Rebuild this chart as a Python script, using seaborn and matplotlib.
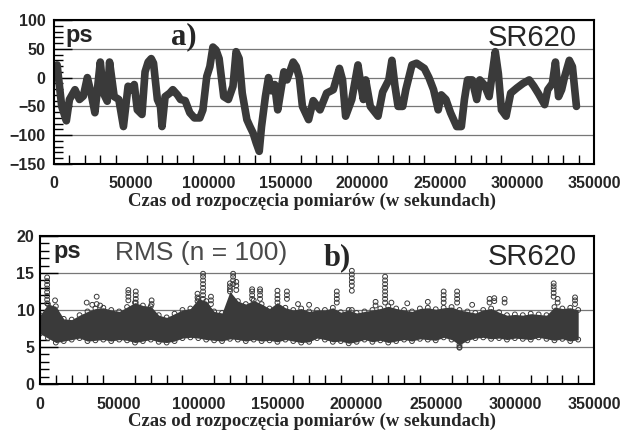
import numpy as np
import pandas as pd
import matplotlib
matplotlib.use('Agg')
import matplotlib.pyplot as plt
from matplotlib.ticker import MultipleLocator
import seaborn as sns

# --- data ---
# a) time offset in ps vs. time (s)
offset_t = [0, 2000, 5000, 8000, 10000, 13600, 16500, 19000, 21600, 24000, 26500,
            30000, 32000, 34500, 36000, 39000, 42000, 45000, 48000, 50000, 52000,
            54000, 57000, 59000, 61000, 63000, 64500, 67000, 69000, 70000, 72000,
            75000, 77000, 80000, 82000, 85000, 88000, 91000, 94500, 96500, 99000,
            101000, 103000, 105000, 107000, 110000, 113000, 116000, 118000, 120000,
            122000, 125000, 127000, 129000, 131000, 133000, 134500, 137000, 139000,
            141000, 143000, 145000, 147000, 149000, 151000, 155000, 157000, 159000,
            161000, 165000, 168000, 172400, 176700, 181000, 185000, 187000, 189000,
            193000, 197000, 199000, 200500, 202000, 205000, 210000, 213000, 217000,
            219000, 221000, 223000, 226000, 228000, 232000, 235000, 240000, 243000,
            246000, 249000, 251000, 254000, 257000, 261000, 264000, 266000, 268000,
            271000, 274000, 276000, 279000, 282000, 286000, 288000, 290000, 293000,
            296000, 300000, 304000, 308000, 311000, 314000, 318000, 320000, 323000,
            325000, 327000, 329000, 331000, 334000, 336000, 338600]
offset_ps = [18, 22, -50, -75, -38, -21, -38, -32, 0, -27, -61,
             27, -27, -41, 27, -33, -38, -85, -15, -21, -12,
             -56, -64, 10, 27, 33, 25, -38, -50, -85, -33,
             -27, -21, -30, -38, -40, -61, -70, -70, -56, 2,
             19, 53, 48, 33, -33, -38, -15, 45, 33,
             -27, -73, -85, -96, -113, -128, -85, -33, 0,
             -23, -12, -56, -23, 10, -4, 27, 19, 0,
             -50, -73, -40, -56, -27, -21, 16, -4, -67,
             -38, 22, -15, -38, -4, -50, -67, -25, -4,
             30, -15, -50, -50, -21, 22, 25, 16, 0,
             -21, -56, -30, -38, -61, -85, -85, -38, -4,
             -4, -38, -4, -13, -33, 45, 7, -56, -67,
             -27, -18, -10, -4, -15, -28, -47, -21, -10,
             27, -33, -21, 2, 30, 19, -50]

# b) RMS (n = 100) band: lower / upper edge of the dense cloud
rms_t = [0, 5000, 10000, 15000, 20000, 25000, 30000, 35000, 40000, 45000, 50000,
         55000, 60000, 65000, 70000, 75000, 80000, 85000, 90000, 95000, 100000,
         105000, 110000, 115000, 120000, 125000, 130000, 135000, 140000, 145000,
         150000, 155000, 160000, 165000, 170000, 175000, 180000, 185000, 190000,
         195000, 200000, 205000, 210000, 215000, 220000, 225000, 230000, 235000,
         240000, 245000, 250000, 255000, 260000, 265000, 270000, 275000, 280000,
         285000, 290000, 295000, 300000, 305000, 310000, 315000, 320000, 325000,
         330000, 335000, 340000]
rms_hi = [9.3, 10.8, 10.5, 8.8, 8.7, 9.3, 9.8, 10.2, 10.3, 10.0, 9.8,
          10.4, 11.0, 10.6, 10.5, 9.3, 9.0, 9.5, 10.0, 10.2, 11.5,
          11.2, 9.8, 9.6, 12.5, 11.2, 10.8, 11.3, 10.8, 10.2,
          11.0, 10.3, 10.0, 10.2, 9.8, 10.0, 10.0, 10.3, 9.7,
          10.0, 9.6, 9.8, 10.0, 10.2, 10.5, 10.2, 10.0, 9.8,
          10.2, 10.3, 10.1, 10.3, 10.4, 10.0, 9.8, 9.6, 10.0,
          10.2, 9.7, 9.3, 9.4, 9.3, 9.5, 9.4, 9.3, 10.4,
          10.2, 10.3, 10.0]
rms_lo = [6.8, 6.2, 5.6, 5.8, 6.0, 6.2, 5.8, 5.9, 6.0, 5.8, 6.0,
          5.9, 5.6, 5.8, 6.0, 5.7, 5.6, 5.8, 6.2, 6.3, 6.2,
          6.0, 5.9, 5.8, 6.1, 6.0, 5.8, 6.0, 5.8, 5.9,
          5.7, 6.0, 5.8, 5.6, 5.7, 6.2, 6.0, 5.7, 5.8,
          5.5, 5.7, 6.0, 5.7, 5.9, 5.6, 5.8, 6.0, 5.8,
          6.1, 6.0, 5.9, 6.3, 6.0, 5.3, 5.9, 6.2, 6.3,
          6.1, 6.2, 6.0, 6.2, 6.1, 6.0, 6.3, 6.1, 5.9,
          6.1, 5.8, 6.0]

# b) isolated RMS points standing out of the band
out_t = [4500] * 8 + [9500, 29500, 33000, 35800, 35800, 38000] \
    + [55800] * 4 + [60500] * 4 + [70500] * 2 + [99500] * 3 + [103000] * 8 \
    + [108000] * 3 + [120000] * 3 + [122000] * 4 + [124000] * 3 \
    + [134000] * 4 + [139000] * 4 + [150000] * 3 + [156000] * 3 + [163000, 170000] \
    + [187500] * 4 + [197000] * 7 + [212000] * 2 + [218000] * 8 \
    + [222000, 232000, 245000] + [255000] * 4 + [263500] * 4 + [273000] \
    + [284000] * 2 + [287000] * 2 + [293500] * 2 + [265000] * 2 \
    + [324500] * 5 + [327000] * 2 + [338000] * 3
out_ps = [10.9, 11.4, 11.9, 12.4, 12.9, 13.4, 13.9, 14.4,
          11.3, 11.0, 10.7, 11.8, 10.8, 10.6,
          11.3, 11.8, 12.3, 12.7, 11.0, 11.5, 12.0, 12.5, 10.8, 11.3,
          11.2, 11.7, 12.2, 11.5, 12.0, 12.5, 13.0, 13.5, 14.0, 14.5, 14.9,
          10.8, 11.3, 11.8, 12.8, 13.2, 13.6, 13.5, 14.0, 14.5, 14.9, 12.7, 13.3, 13.8,
          11.5, 12.0, 12.5, 12.8, 11.5, 12.0, 12.5, 12.8, 11.5, 12.0, 12.6,
          11.5, 12.0, 12.5, 10.8, 10.7,
          11.0, 11.5, 12.0, 12.5, 10.0, 12.6, 13.3, 13.8, 14.3, 14.8, 15.3,
          10.6, 11.1, 11.0, 11.5, 12.0, 12.5, 13.0, 13.5, 14.0, 14.5,
          11.0, 10.9, 11.1, 11.0, 11.5, 12.0, 12.5, 11.0, 11.5, 12.0, 12.5, 10.7,
          11.0, 11.5, 11.2, 11.6, 11.0, 11.5, 5.0, 4.9,
          11.8, 12.3, 12.8, 13.2, 13.6, 11.0, 11.5, 10.8, 11.3, 11.7]

xlabel = 'Czas od rozpoczęcia pomiarów (w sekundach)'
dark = '#3a3a3a'

sns.set_style('white')
plt.rcParams['font.family'] = ['Liberation Sans', 'DejaVu Sans']

fig = plt.figure(figsize=(6.31, 4.30), dpi=100)
ax1 = fig.add_axes([0.0856, 0.6186, 0.8558, 0.3349])
ax2 = fig.add_axes([0.0634, 0.1070, 0.8780, 0.3442])

# a) offset
df_a = pd.DataFrame({'t': offset_t, 'ps': offset_ps})
sns.lineplot(data=df_a, x='t', y='ps', ax=ax1, color=dark, linewidth=5.5,
             solid_capstyle='round', solid_joinstyle='round')
ax1.set_ylim(-150, 100)
ax1.yaxis.set_major_locator(MultipleLocator(50))
ax1.yaxis.set_minor_locator(MultipleLocator(10))

# b) RMS
df_b = pd.DataFrame({'t': rms_t, 'lo': rms_lo, 'hi': rms_hi})
ax2.fill_between(df_b['t'], df_b['lo'], df_b['hi'], color=dark, linewidth=0)
df_edge = pd.DataFrame({'t': rms_t * 2, 'ps': rms_lo + rms_hi})
sns.scatterplot(data=df_edge, x='t', y='ps', ax=ax2, marker='o', s=12,
                facecolor='none', edgecolor=dark, linewidth=0.7)
df_out = pd.DataFrame({'t': out_t, 'ps': out_ps})
sns.scatterplot(data=df_out, x='t', y='ps', ax=ax2, marker='o', s=12,
                facecolor='none', edgecolor=dark, linewidth=0.7)
ax2.set_ylim(0, 20)
ax2.yaxis.set_major_locator(MultipleLocator(5))
ax2.yaxis.set_minor_locator(MultipleLocator(1))

for ax, xpad, ypad in [(ax1, 8.5, 6), (ax2, 9.5, 4)]:
    ax.set_xlim(0, 350000)
    ax.xaxis.set_major_locator(MultipleLocator(50000))
    ax.xaxis.set_minor_locator(MultipleLocator(10000))
    ax.grid(axis='y', which='major', color='#777777', linewidth=0.9)
    ax.set_axisbelow(True)
    ax.tick_params(axis='x', which='major', direction='in', length=13, width=1,
                   color='black', pad=xpad, labelsize=11.5)
    ax.tick_params(axis='x', which='minor', direction='in', length=6.5, width=1,
                   color='black', bottom=True)
    ax.tick_params(axis='y', which='major', direction='in', length=13, width=1,
                   color='black', pad=ypad, labelsize=11.5, left=True)
    ax.tick_params(axis='y', which='minor', direction='in', length=6.5, width=1,
                   color='black', left=True)
    for lab in ax.get_xticklabels() + ax.get_yticklabels():
        lab.set_fontweight('bold')
    for sp in ax.spines.values():
        sp.set_color('black')
        sp.set_linewidth(1.5)
    ax.set_xlabel('')
    ax.set_ylabel('')

# in-plot annotations
ax1.text(0.022, 0.975, 'ps', transform=ax1.transAxes, ha='left', va='top',
         fontsize=17, fontweight='bold')
ax1.text(0.968, 0.97, 'SR620', transform=ax1.transAxes, ha='right', va='top',
         fontsize=21)
fig.text(184 / 631, 1 - 37 / 430, 'a)', ha='center', va='center', fontsize=22,
         fontweight='bold', family=['Liberation Serif'])

ax2.text(0.024, 0.975, 'ps', transform=ax2.transAxes, ha='left', va='top',
         fontsize=17, fontweight='bold')
ax2.text(0.135, 0.965, 'RMS (n = 100)', transform=ax2.transAxes, ha='left',
         va='top', fontsize=19, color='#4a4a4a')
ax2.text(0.968, 0.95, 'SR620', transform=ax2.transAxes, ha='right', va='top',
         fontsize=21)
fig.text(337 / 631, 1 - 258 / 430, 'b)', ha='center', va='center', fontsize=22,
         fontweight='bold', family=['Liberation Serif'])

fig.text(312 / 631, 1 - 201 / 430, xlabel, ha='center', va='center',
         fontsize=13.5, fontweight='bold', family=['Liberation Serif'])
fig.text(312 / 631, 1 - 421 / 430, xlabel, ha='center', va='center',
         fontsize=13.5, fontweight='bold', family=['Liberation Serif'])

fig.savefig('out.png', dpi=100)
